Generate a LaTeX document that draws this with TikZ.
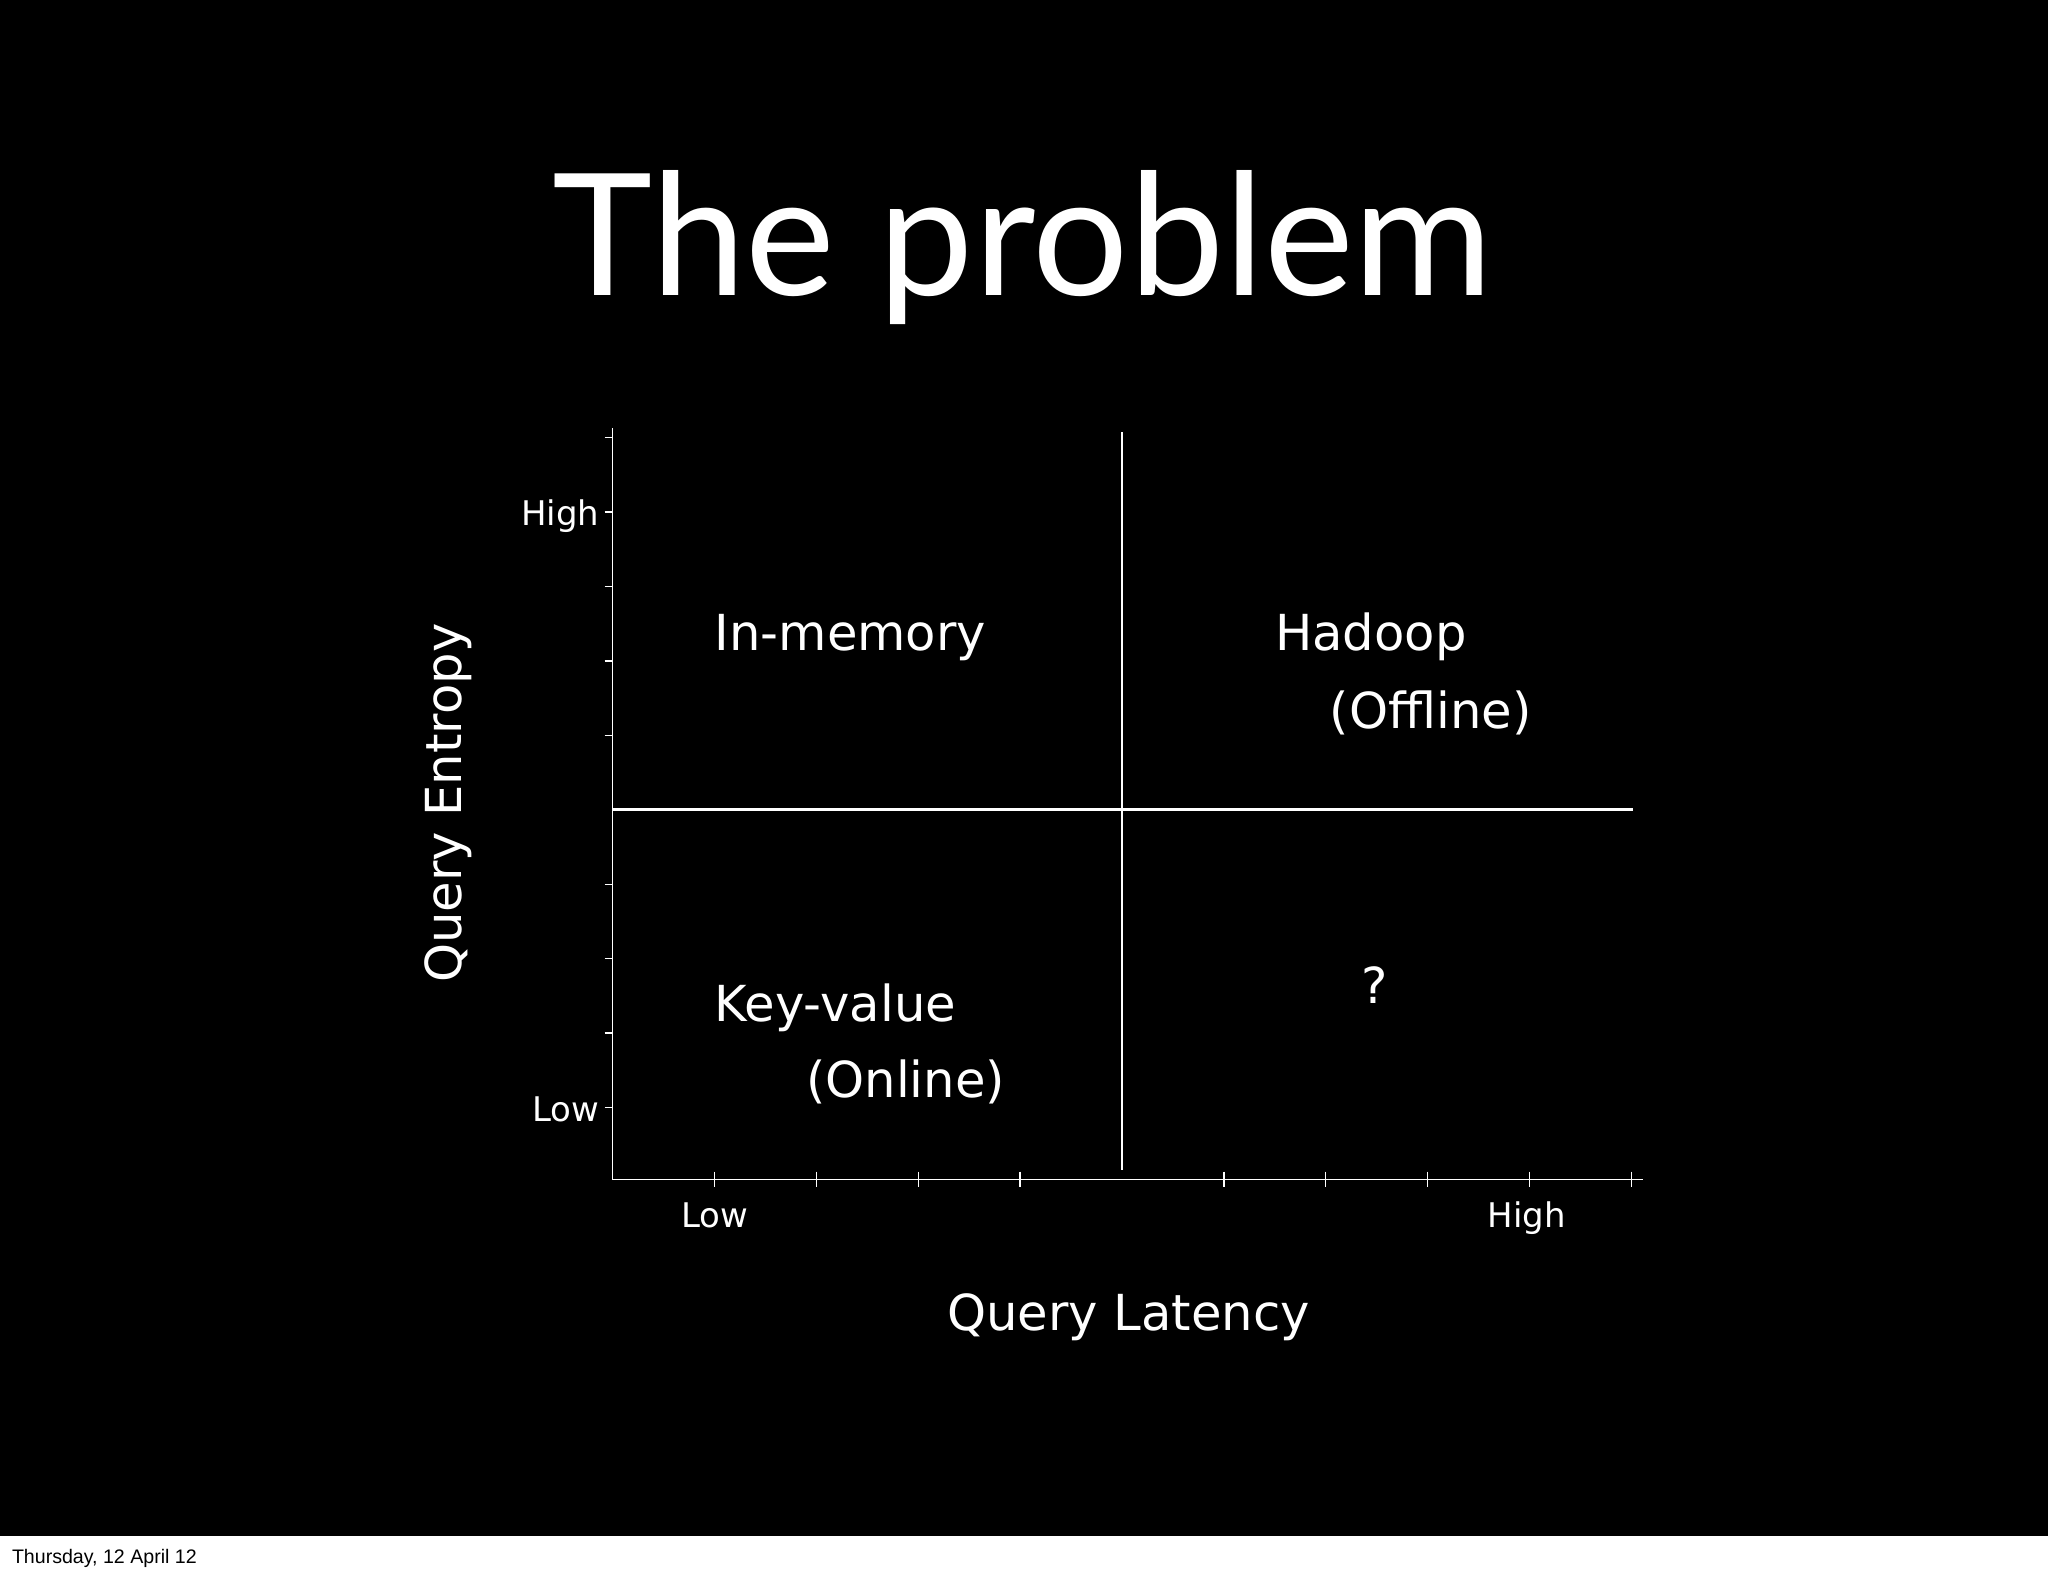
\documentclass[tikz,border=0pt]{standalone}
\usepackage{fontspec}
\setmainfont{DejaVu Sans}
\newfontfamily\titlefont{Lato}
\newfontfamily\footfont{Liberation Sans}
\begin{document}
\begin{tikzpicture}[x=1pt,y=-1pt,
  lbl/.style={text=white,inner sep=0pt,anchor=base west,font=\fontsize{38}{44}\selectfont},
  tick/.style={text=white,inner sep=0pt,font=\fontsize{26}{30}\selectfont},
  ax/.style={white,line width=2pt},
  tk/.style={white,line width=1pt}]
\useasboundingbox (0,0) rectangle (1568,1206);
\fill[white] (0,0) rectangle (1568,1206);
\fill[black] (0,0) rectangle (1568,1176);
\node[text=white,inner sep=0pt,anchor=base,font=\titlefont\fontsize{130}{140}\selectfont] (title) at (783,226) {The problem};
% axes
\coordinate (o) at (469,903);
\coordinate (ytop) at (469,328);
\coordinate (xend) at (1258,903);
\draw[tk] (ytop) -- (o) -- (xend);
\foreach \y in {335,392,449,506,563,677,734,791,848} \draw[tk] (463,\y) -- (469,\y);
\foreach \x in {547,625,703,781,937,1015,1093,1171,1249} \draw[tk] (\x,897) -- (\x,909);
% quadrant lines
\coordinate (vt) at (859,331);
\coordinate (vb) at (859,896);
\coordinate (hl) at (469,620);
\coordinate (hr) at (1250,620);
\draw[ax] (vt) -- (vb);
\draw[ax] (hl) -- (hr);
% labels
\node[lbl] (inm) at (547,498) {In-memory};
\node[lbl] (had) at (976,498) {Hadoop};
\node[lbl] (off) at (1018,558) {(Offline)};
\node[lbl] (kv) at (547,782) {Key-value};
\node[lbl] (onl) at (617,840) {(Online)};
\node[lbl] (q) at (1042,768) {?};
\node[tick,anchor=base east] (yh) at (459,402) {High};
\node[tick,anchor=base east] (yl) at (459,859) {Low};
\node[tick,anchor=base] (xl) at (547,940) {Low};
\node[tick,anchor=base] (xh) at (1169,940) {High};
\node[text=white,inner sep=0pt,anchor=base,font=\fontsize{38}{44}\selectfont] (xlab) at (864,1019) {Query Latency};
\node[text=white,inner sep=0pt,anchor=base,rotate=90,font=\fontsize{38}{44}\selectfont] (ylab) at (353,615) {Query Entropy};
\node[inner sep=0pt,anchor=base west,font=\footfont\fontsize{15}{18}\selectfont] (foot) at (9,1197) {Thursday, 12 April 12};
\end{tikzpicture}
\end{document}
